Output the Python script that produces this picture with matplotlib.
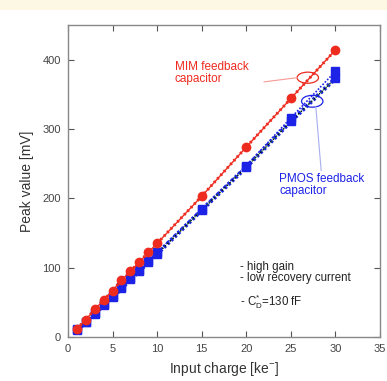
import matplotlib.pyplot as plt
from matplotlib.patches import Ellipse, Rectangle

plt.rcParams['font.family'] = ['Liberation Sans', 'DejaVu Sans']
plt.rcParams['mathtext.default'] = 'regular'

# data
charge = [1, 2, 3, 4, 5, 6, 7, 8, 9, 10, 15, 20, 25, 30]
mim_peak = [12, 25, 40, 53, 67, 82, 95, 108, 122, 135, 203, 274, 344, 414]
pmos_peak = [10, 21, 33, 46, 57, 70, 83, 95, 108, 120, 183, 245, 311, 373]
pmos_peak_b = [11, 22, 34, 47, 59, 72, 85, 97, 110, 122, 185, 247, 316, 383]

RED = '#ee2b1f'
BLUE = '#1c22e6'

fig = plt.figure(figsize=(3.87, 3.81), dpi=100)
fig.patch.set_facecolor('white')
fig.patches.append(Rectangle((0, 1 - 10 / 381), 1, 10 / 381, transform=fig.transFigure,
                             facecolor='#fdf8e3', edgecolor='none', zorder=-1))
ax = fig.add_axes([68 / 387, 1 - 337 / 381, 312 / 387, 312 / 381])

# PMOS curves (dense zig-zag look reproduced with dotted styles)
ax.plot(charge, pmos_peak_b, color=BLUE, lw=1.2, ls=(0, (1, 1)), zorder=2)
ax.plot(charge, pmos_peak, color=BLUE, lw=3.0, ls=(0, (0.6, 0.6)), zorder=2)
ax.plot(charge, pmos_peak, color='#1a7a2a', lw=1.0, ls=(0, (1, 1.5)), zorder=3)
ax.plot(charge, pmos_peak, color='black', lw=1.0, ls=(0.8, (0.8, 1.8)), zorder=3)
ax.plot(charge, pmos_peak, ls='none', marker='s', ms=5.5, color=BLUE, zorder=4)
ax.plot(charge, pmos_peak_b, ls='none', marker='s', ms=5.5, color=BLUE, zorder=4)

# MIM curve
ax.plot(charge, mim_peak, color=RED, lw=1.0, zorder=5)
ax.plot(charge, mim_peak, color=RED, lw=2.2, ls=(0, (0.6, 1.0)), zorder=5)
ax.plot(charge, mim_peak, ls='none', marker='o', ms=6, color=RED, zorder=6)

ax.set_xlim(0, 35)
ax.set_ylim(0, 450)
ax.set_xticks([0, 5, 10, 15, 20, 25, 30, 35])
ax.set_yticks([0, 100, 200, 300, 400])
ax.tick_params(direction='in', top=True, right=True, length=4, width=0.8,
               labelsize=8, colors='#555555', labelcolor='#444444', pad=5)
for s in ax.spines.values():
    s.set_color('#888888')
    s.set_linewidth(1.0)

ax.set_xlabel('Input charge [ke$^{-}$]', fontsize=10, color='#333333', labelpad=4)
ax.set_ylabel('Peak value [mV]', fontsize=10, color='#333333', labelpad=6)

# annotations
ax.add_patch(Ellipse((26.9, 374), 2.4, 16, angle=0, fill=False, ec=RED, lw=0.9, zorder=7))
ax.plot([22.0, 25.7], [368, 374], color='#f59a94', lw=0.8, zorder=7)
ax.text(12.0, 381, 'MIM feedback\ncapacitor', color=RED, fontsize=8.5,
        linespacing=1.0, va='center', ha='left')

ax.add_patch(Ellipse((27.4, 340), 2.4, 17, angle=0, fill=False, ec=BLUE, lw=0.9, zorder=7))
ax.plot([27.8, 28.4], [332, 240], color='#a9adf0', lw=0.8, zorder=7)
ax.text(23.7, 219, 'PMOS feedback\ncapacitor', color=BLUE, fontsize=8.5,
        linespacing=1.0, va='center', ha='left')

ax.text(19.3, 93, '- high gain\n- low recovery current', fontsize=8.3, color='#222222',
        linespacing=0.9, va='center', ha='left')
ax.text(19.3, 51, '- C$_{D}^{*}$=130 fF', fontsize=8.3, color='#222222', va='center', ha='left')

fig.savefig('out.png', dpi=100, facecolor='white')
